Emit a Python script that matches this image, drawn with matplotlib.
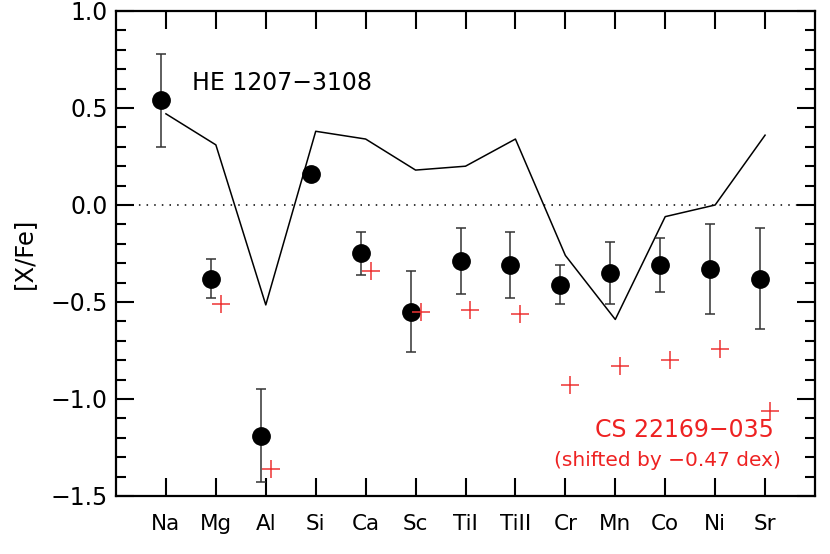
import numpy as np
import matplotlib
matplotlib.use("Agg")
import matplotlib.pyplot as plt
from matplotlib.ticker import MultipleLocator

# Grundstoffer og maalte vaerdier
elements = ["Na", "Mg", "Al", "Si", "Ca", "Sc", "TiI", "TiII", "Cr", "Mn", "Co", "Ni", "Sr"]
he_xfe = [0.54, -0.38, -1.19, 0.16, -0.25, -0.55, -0.29, -0.31, -0.41, -0.35, -0.31, -0.33, -0.38]
he_err = [0.24, 0.10, 0.24, 0.0, 0.11, 0.21, 0.17, 0.17, 0.10, 0.16, 0.14, 0.23, 0.26]
model_xfe = [0.47, 0.31, -0.515, 0.38, 0.34, 0.18, 0.20, 0.34, -0.26, -0.59, -0.06, 0.0, 0.36]
cs_xfe = [None, -0.51, -1.36, None, -0.34, -0.55, -0.54, -0.56, -0.93, -0.83, -0.80, -0.74, -1.06]

pos = np.arange(1, len(elements) + 1)
he_err_plot = np.array(he_err, dtype=float)
has_err = he_err_plot > 0
cs_arr = np.array([np.nan if v is None else v for v in cs_xfe])

fig = plt.figure(figsize=(8.3, 5.54), dpi=100)
ax = fig.add_axes([116 / 830, 1 - 496 / 554, (815 - 116) / 830, (496 - 11) / 554])

# model-linje
ax.plot(pos, model_xfe, color="black", linewidth=1.1)
# nul-linje
ax.axhline(0.0, color="black", linestyle=(0, (1, 4)), linewidth=1.1)

# HE 1207-3108 med fejlstaenger
xh = pos - 0.1
ax.errorbar(xh[has_err], np.array(he_xfe)[has_err], yerr=he_err_plot[has_err],
            fmt="none", ecolor="#333333", elinewidth=1.1, capsize=3.5, capthick=1.1)
ax.plot(xh, he_xfe, "o", color="black", markersize=12.5, zorder=5)

# CS 22169-035 (forskudt)
ax.plot(pos + 0.1, cs_arr, "+", color="#ee3333", markersize=13, markeredgewidth=1.1, zorder=6)

ax.set_xlim(0, 14)
ax.set_ylim(-1.5, 1.0)
ax.set_xticks(pos)
ax.set_xticklabels(elements)
ax.yaxis.set_major_locator(MultipleLocator(0.5))
ax.yaxis.set_minor_locator(MultipleLocator(0.1))
ax.set_yticklabels([f"{v:.1f}".replace("-", "\u2212") for v in ax.get_yticks()])
ax.tick_params(axis="both", which="both", direction="in", top=True, right=True, labelsize=17)
ax.tick_params(axis="both", which="major", length=13, width=1.5)
ax.tick_params(axis="y", which="minor", length=7, width=1.5)
ax.tick_params(axis="x", which="major", pad=13, labelsize=15.5)
ax.tick_params(axis="y", which="major", pad=6)
for s in ax.spines.values():
    s.set_linewidth(1.6)

ax.set_ylabel("[X/Fe]", fontsize=17.5, labelpad=10)

ax.text(1.52, 0.63, "HE 1207\u22123108", fontsize=17, va="center", ha="left")
ax.text(13.18, -1.16, "CS 22169\u2212035", fontsize=17, color="#ee2222", va="center", ha="right")
ax.text(13.32, -1.315, "(shifted by \u22120.47 dex)", fontsize=14.5, color="#ee2222", va="center", ha="right")

fig.savefig("out.png", dpi=100)
